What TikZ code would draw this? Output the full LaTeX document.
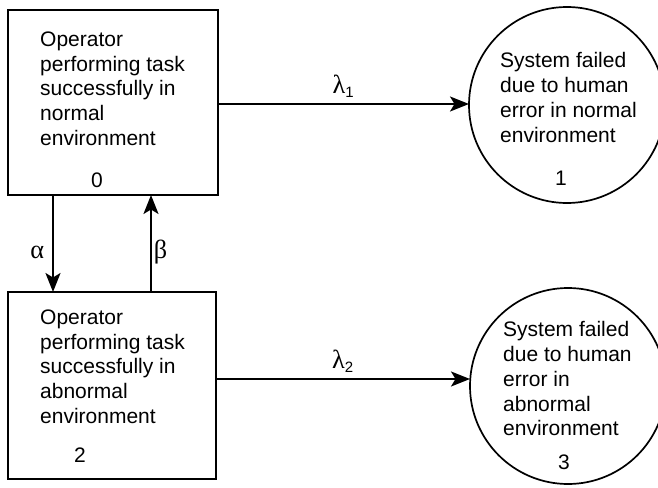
\documentclass[tikz,border=0pt]{standalone}
\usepackage{fontspec}
\setmainfont{Liberation Sans}
\newfontfamily\grk{Liberation Serif}[Scale=1.25]
\usetikzlibrary{arrows.meta, positioning}

\begin{document}
\begin{tikzpicture}[
    x=1pt, y=-1pt,
    font=\fontsize{21}{24.7}\selectfont,
    state/.style={rectangle, draw, line width=1.7pt, minimum width=210pt, minimum height=185pt, inner sep=0pt, outer sep=0pt},
    failed/.style={circle, draw, line width=1.7pt, minimum size=196pt, inner sep=0pt, outer sep=0pt},
    txt/.style={align=left, inner sep=0pt, anchor=north west},
    num/.style={inner sep=0pt, anchor=base},
    arrow/.style={-{Stealth[length=19pt, width=15pt, inset=4.5pt]}, line width=1.7pt},
    rate/.style={inner sep=0pt},
]
\useasboundingbox (0,0) rectangle (658,487);

%% NODES
    % operator states
    \node[state] (s0) at (113,102.5) {};
    \node[state, minimum width=208pt, minimum height=187pt] (s2) at (112,385.5) {};

    % failed states
    \node[failed] (s1) at (567,105) {};
    \node[failed] (s3) at (568,386) {};

    % texts
    \node[txt] (t0) at ([xshift=32pt, yshift=-21.5pt]s0.north west) {Operator\\performing task\\successfully in\\normal\\environment};
    \node[num] (n0) at ([xshift=89pt, yshift=-177pt]s0.north west) {0};

    \node[txt] (t2) at ([xshift=32pt, yshift=-17.5pt]s2.north west) {Operator\\performing task\\successfully in\\abnormal\\environment};
    \node[num] (n2) at ([xshift=72pt, yshift=-170pt]s2.north west) {2};

    \node[txt] (t1) at ([xshift=-67pt, yshift=52.5pt]s1.center) {System failed\\due to human\\error in normal\\environment};
    \node[num] (n1) at ([xshift=-6pt, yshift=-80pt]s1.center) {1};

    \node[txt] (t3) at ([xshift=-65pt, yshift=64.5pt]s3.center) {System failed\\due to human\\error in\\abnormal\\environment};
    \node[num] (n3) at ([xshift=-4pt, yshift=-83pt]s3.center) {3};

%% TRANSITIONS
    \draw[arrow] ([yshift=-1.5pt]s0.east) -- ([yshift=-1.5pt]s0.east -| s1.west)
        node[rate, midway, above=6pt] (l1) {{\grk λ}\textsubscript{\fontsize{15}{15}\selectfont 1}};
    \draw[arrow] ([yshift=6.5pt]s2.east) -- ([yshift=6.5pt]s2.east -| s3.west)
        node[rate, midway, above=6pt] (l2) {{\grk λ}\textsubscript{\fontsize{15}{15}\selectfont 2}};

    \draw[arrow] ([xshift=-60pt]s0.south) -- ([xshift=-60pt]s0.south |- s2.north)
        node[rate, pos=0.59, left=8pt] (la) {\grk α};
    \draw[arrow] ([xshift=38pt]s0.south |- s2.north) -- ([xshift=38pt]s0.south)
        node[rate, pos=0.41, right=2pt] (lb) {\grk β};

\end{tikzpicture}
\end{document}
